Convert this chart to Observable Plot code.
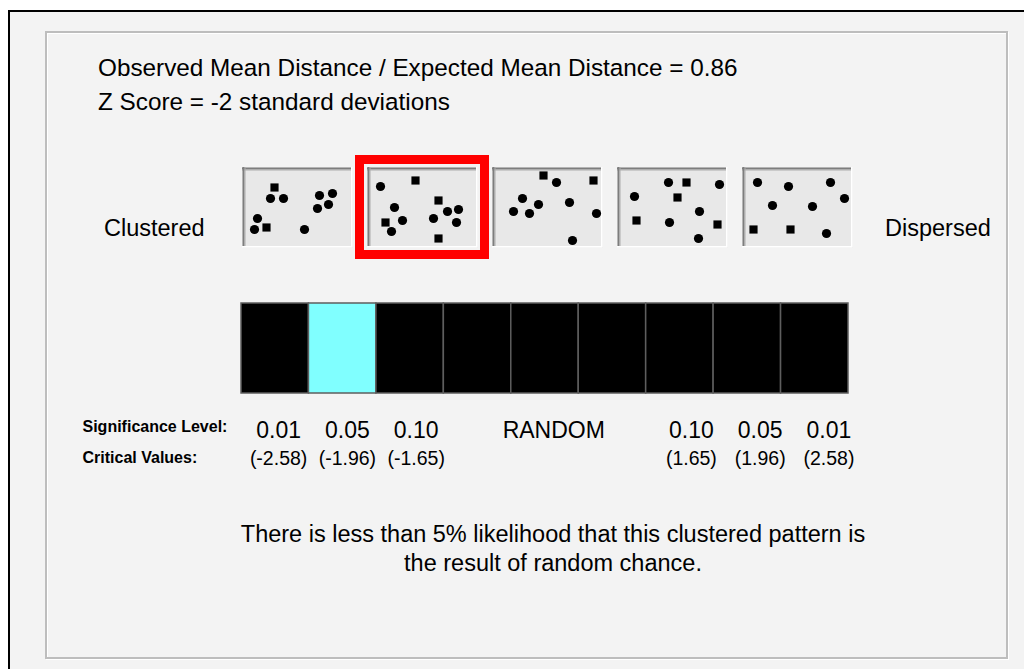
<!DOCTYPE html>
<html>
<head>
<meta charset="utf-8">
<script src="https://cdn.jsdelivr.net/npm/d3@7"></script>
<script src="https://cdn.jsdelivr.net/npm/@observablehq/plot@0.6"></script>
<style>
  html, body { margin: 0; padding: 0; background: #fff; overflow: hidden; }
  #root { position: relative; width: 1024px; height: 669px; overflow: hidden; font-family: "Liberation Sans", Arial, sans-serif; color: #000; }
  .abs { position: absolute; }
  #outer { left: 8px; top: 10px; width: 1200px; height: 800px; border: 2px solid #000; background: #f3f3f3; }
  #panel { left: 45px; top: 31px; width: 959px; height: 624px; border: 2px solid #bdbdbd; box-shadow: inset 1px 1px 0 #fff, 1px 1px 0 #fff; }
  #title { left: 98px; top: 51px; font-size: 24.3px; line-height: 34px; white-space: nowrap; }
  .side { font-size: 23.5px; line-height: 30px; top: 213px; white-space: nowrap; }
  #footer { left: 203px; width: 700px; top: 520px; text-align: center; font-size: 23.5px; line-height: 29px; }
</style>
</head>
<body>
<div id="root">
  <div id="outer" class="abs"></div>
  <div id="panel" class="abs"></div>
  <div id="title" class="abs"></div>
  <div id="left" class="abs side" style="left:104px"></div>
  <div id="right" class="abs side" style="left:885px"></div>
  <div id="thumbs" class="abs" style="left:228px; top:153px"></div>
  <div id="bar" class="abs" style="left:60px; top:293px"></div>
  <div id="footer" class="abs"></div>
</div>
<script>
// ---- data ----
const meanRatio = 0.86;
const zScore = -2;
const endLabels = ["Clustered", "Dispersed"];

// dot patterns in each thumbnail (local coords in a 110 x 80 box): [x, y, kind]
const pattern0 = [[32,20,"s"],[28,31,"c"],[41,31,"c"],[15,51,"c"],[24,60,"s"],[12,62,"c"],[77,28,"c"],[90,26,"c"],[86,37,"c"],[75,41,"c"],[62,62,"c"]];
const pattern1 = [[13,19,"c"],[48,13,"s"],[27,40,"c"],[18,55,"s"],[35,53,"c"],[24,64,"c"],[71,33,"s"],[80,44,"c"],[91,42,"c"],[66,51,"c"],[89,55,"c"],[71,71,"s"]];
const pattern2 = [[51,8,"s"],[64,15,"c"],[101,13,"s"],[30,31,"c"],[46,37,"c"],[21,44,"c"],[37,46,"c"],[77,35,"c"],[104,46,"c"],[80,73,"c"]];
const pattern3 = [[51,15,"c"],[69,15,"s"],[102,17,"c"],[17,29,"c"],[60,30,"s"],[82,44,"c"],[19,53,"s"],[52,55,"c"],[100,57,"s"],[81,71,"c"]];
const pattern4 = [[15,15,"c"],[46,19,"c"],[88,15,"c"],[102,31,"c"],[30,38,"c"],[70,39,"c"],[11,62,"s"],[48,62,"s"],[84,66,"c"]];
const patterns = [pattern0, pattern1, pattern2, pattern3, pattern4];
const selectedPattern = 1;

// result bar: nine bins from clustered to dispersed
const bins = ["clustered 0.01", "clustered 0.05", "clustered 0.10", "random", "random", "random", "dispersed 0.10", "dispersed 0.05", "dispersed 0.01"];
const highlightedBin = 1;

const sigLevels = ["0.01", "0.05", "0.10", "RANDOM", "0.10", "0.05", "0.01"];
const critValues = ["(-2.58)", "(-1.96)", "(-1.65)", "", "(1.65)", "(1.96)", "(2.58)"];
const labelBins = [0, 1, 2, 4, 6, 7, 8];
const rowHeaders = ["Significance Level:", "Critical Values:"];

const footerLines = ["There is less than 5% likelihood that this clustered pattern is", "the result of random chance."];

// ---- text ----
const FONT = '"Liberation Sans", Arial, sans-serif';
document.getElementById("title").innerHTML =
  `Observed Mean Distance / Expected Mean Distance = ${meanRatio.toFixed(2)}<br>Z Score = ${zScore} standard deviations`;
document.getElementById("left").textContent = endLabels[0];
document.getElementById("right").textContent = endLabels[1];
document.getElementById("footer").innerHTML = footerLines.join("<br>");

// ---- thumbnails ----
const BOX_W = 110, BOX_H = 80;
const dots = patterns.flatMap((pts, k) => pts.map(([x, y, s]) => ({panel: k, x, y, shape: s === "s" ? "square" : "circle"})));

const thumbs = Plot.plot({
  width: 638, height: 108,
  marginTop: 14, marginBottom: 14, marginLeft: 14, marginRight: 14,
  x: {domain: [0, BOX_W], axis: null},
  y: {domain: [0, BOX_H], reverse: true, axis: null},
  fx: {domain: d3.range(patterns.length), paddingInner: 0.12, paddingOuter: 0, axis: null, label: null},
  style: {background: "transparent", overflow: "visible"},
  marks: [
    Plot.frame({fill: "#e8e8e8", stroke: "none"}),
    Plot.ruleY([0], {stroke: "#7d7d7d", strokeWidth: 2, dy: 1}),
    Plot.ruleY([0], {stroke: "#ababab", strokeWidth: 1, dy: 2.5}),
    Plot.ruleX([0], {stroke: "#7d7d7d", strokeWidth: 2, dx: 1}),
    Plot.ruleX([0], {stroke: "#ababab", strokeWidth: 1, dx: 2.5}),
    Plot.ruleY([BOX_H], {stroke: "#ffffff", strokeWidth: 1.5, dy: -0.75}),
    Plot.ruleX([BOX_W], {stroke: "#ffffff", strokeWidth: 1.5, dx: -0.75}),
    Plot.dot(dots, {x: "x", y: "y", fx: "panel", r: 4.6, fill: "#000", stroke: "none", symbol: "shape"}),
    Plot.rect([selectedPattern], {fx: d => d, x1: 0, x2: BOX_W, y1: 0, y2: BOX_H, inset: -7.5, fill: "none", stroke: "#ff0000", strokeWidth: 9})
  ]
});
document.getElementById("thumbs").appendChild(thumbs);

// ---- result bar and labels ----
const labels = sigLevels.map((s, i) => ({bin: labelBins[i], sig: s, crit: critValues[i]}));
const labelX = d => d.bin * 1.02 + 0.55;

const bar = Plot.plot({
  width: 808, height: 190,
  marginTop: 10, marginBottom: 90, marginLeft: 181, marginRight: 20,
  x: {domain: [0, bins.length], axis: null},
  y: {domain: [0, 1], axis: null},
  style: {background: "transparent", overflow: "visible", fontFamily: FONT, color: "#000"},
  marks: [
    Plot.rect(bins, {x1: (d, i) => i, x2: (d, i) => i + 1, y1: 0, y2: 1,
      fill: (d, i) => i === highlightedBin ? "#80ffff" : "#000", stroke: "#5e5e5e", strokeWidth: 1.5}),
    Plot.text(labels, {x: labelX, frameAnchor: "bottom", dy: 44, text: "sig", fontSize: 23, fill: "#000"}),
    Plot.text(labels, {x: labelX, frameAnchor: "bottom", dy: 71, text: "crit", fontSize: 19.5, fill: "#000"}),
    Plot.text([rowHeaders[0]], {frameAnchor: "bottom-left", dx: -159, dy: 38, text: d => d, textAnchor: "start", fontWeight: "bold", fontSize: 16, fill: "#000"}),
    Plot.text([rowHeaders[1]], {frameAnchor: "bottom-left", dx: -159, dy: 69, text: d => d, textAnchor: "start", fontWeight: "bold", fontSize: 16, fill: "#000"})
  ]
});
document.getElementById("bar").appendChild(bar);
</script>
</body>
</html>
